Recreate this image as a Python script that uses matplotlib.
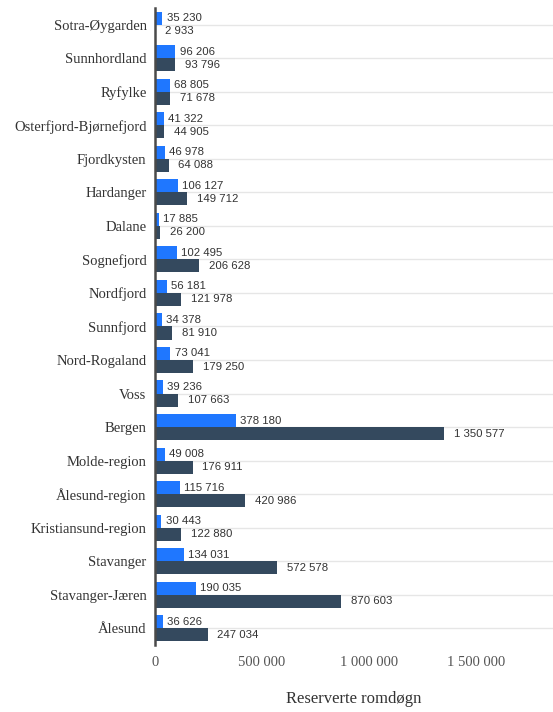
import numpy as np
import matplotlib.pyplot as plt
from matplotlib.ticker import FuncFormatter

# Data
regions = ["Sotra-Øygarden", "Sunnhordland", "Ryfylke", "Osterfjord-Bjørnefjord",
           "Fjordkysten", "Hardanger", "Dalane", "Sognefjord", "Nordfjord",
           "Sunnfjord", "Nord-Rogaland", "Voss", "Bergen", "Molde-region",
           "Ålesund-region", "Kristiansund-region", "Stavanger", "Stavanger-Jæren",
           "Ålesund"]
series_a = [35230, 96206, 68805, 41322, 46978, 106127, 17885, 102495, 56181,
            34378, 73041, 39236, 378180, 49008, 115716, 30443, 134031, 190035,
            36626]
series_b = [2933, 93796, 71678, 44905, 64088, 149712, 26200, 206628, 121978,
            81910, 179250, 107663, 1350577, 176911, 420986, 122880, 572578,
            870603, 247034]
xticks = [0, 500000, 1000000, 1500000]

blue = "#1f77ff"
dark = "#34495e"


def fmt(v):
    return f"{int(v):,}".replace(",", " ")


fig = plt.figure(figsize=(5.53, 7.12), dpi=100)
ax = fig.add_axes([0.28, 0.094, 0.72, 0.895])

y = np.arange(len(regions))
h = 0.39
ax.barh(y - h / 2, series_a, height=h, color=blue, zorder=2)
ax.barh(y + h / 2, series_b, height=h, color=dark, zorder=2)

for yi, a, b in zip(y, series_a, series_b):
    ax.annotate(fmt(a), (a, yi - h / 2), xytext=(3, 0), textcoords="offset points",
                va="center", ha="left", fontsize=8.2, color="#333333",
                family="Liberation Sans")
    ax.annotate(fmt(b), (b, yi + h / 2), xytext=(7, 0), textcoords="offset points",
                va="center", ha="left", fontsize=8.2, color="#333333",
                family="Liberation Sans")

ax.set_ylim(len(regions) - 0.5, -0.5)
ax.set_xlim(0, 1860000)
ax.set_yticks(y)
ax.set_yticklabels(regions, family="Liberation Serif", fontsize=10.5, color="#333333")
ax.set_xticks(xticks)
ax.xaxis.set_major_formatter(FuncFormatter(lambda v, p: fmt(v)))
for lab in ax.get_xticklabels():
    lab.set_family("Liberation Serif")
    lab.set_fontsize(10.5)
    lab.set_color("#555555")
ax.tick_params(axis="both", length=0, pad=6)
ax.tick_params(axis="x", pad=8)

ax.grid(axis="y", color="#e6e6e6", linewidth=1, zorder=0)
ax.grid(axis="x", visible=False)
for s in ["top", "right", "bottom"]:
    ax.spines[s].set_visible(False)
ax.spines["left"].set_color("#4a4a4a")
ax.spines["left"].set_linewidth(1.8)
ax.spines["left"].set_zorder(3)

ax.set_xlabel("Reserverte romdøgn", family="Liberation Serif", fontsize=12,
              color="#333333", labelpad=16)

fig.savefig("out.png", dpi=100)
